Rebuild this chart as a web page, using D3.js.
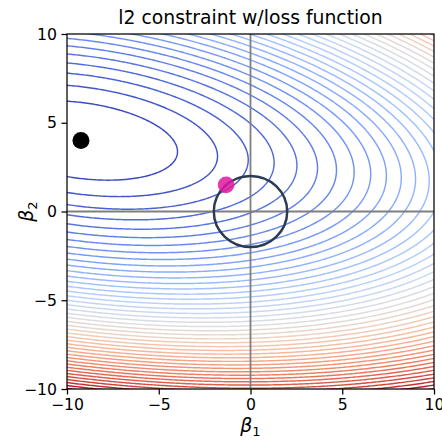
<!DOCTYPE html>
<html>
<head>
<meta charset="utf-8">
<script src="https://cdn.jsdelivr.net/npm/d3@7"></script>
<style>
body { margin: 0; background: #fff; }
svg { display: block; font-family: 'DejaVu Sans', sans-serif; }
</style>
</head>
<body>
<svg width="442" height="440"></svg>
<script>
// loss surface: quadratic bowl a*dx^2 + 2h*dx*dy + d*dy^2 around the OLS estimate
const betaHat = [-9.24, 4.0]
const lossCoef = [0.196, 0.13, 1.087]
const levels = [5, 10, 15, 20, 25, 30, 35, 40, 45, 50, 55, 60, 65, 70, 75, 80, 85, 90,
  95, 100, 105, 110, 115, 120, 125, 130, 135, 140, 145, 150, 155, 160, 165, 170, 175,
  180, 185, 190, 195, 200, 205, 210, 215]
const constrained = [-1.33, 1.5]
const l2Radius = 2
const xTicks = [-10, -5, 0, 5, 10]
const yTicks = [-10, -5, 0, 5, 10]

// matplotlib coolwarm anchors
const coolwarm = ['#3b4cc0', '#4d68d7', '#6282ea', '#779af7', '#8db0fe', '#a3c2ff',
  '#b8d0f9', '#ccd9ee', '#dddddd', '#ecd3c5', '#f5c4ac', '#f7b194', '#f49a7b',
  '#ec7f63', '#de604d', '#cb3e38', '#b40426']

const svg = d3.select('svg')
const width = +svg.attr('width')
const height = +svg.attr('height')
const margin = { top: 34, right: 8, bottom: 51, left: 67 }
const innerWidth = width - margin.left - margin.right
const innerHeight = height - margin.top - margin.bottom

const xScale = d3.scaleLinear().domain([-10, 10]).range([0, innerWidth])
const yScale = d3.scaleLinear().domain([-10, 10]).range([innerHeight, 0])
const colour = d3.scaleLinear()
  .domain(d3.range(coolwarm.length).map(i => levels[0] + i * (levels[levels.length - 1] - levels[0]) / (coolwarm.length - 1)))
  .range(coolwarm)
  .interpolate(d3.interpolateRgb)

const loss = (b1, b2) => {
  const dx = b1 - betaHat[0], dy = b2 - betaHat[1]
  return lossCoef[0] * dx * dx + 2 * lossCoef[1] * dx * dy + lossCoef[2] * dy * dy
}

// sample grid a bit wider than the plot so the grid border falls outside the clip
const g0 = -10.5, step = 0.1, n = 211
const values = new Array(n * n)
for (let j = 0; j < n; j++) {
  for (let i = 0; i < n; i++) values[j * n + i] = loss(g0 + i * step, g0 + j * step)
}
const contours = d3.contours().size([n, n]).thresholds(levels)(values)

const gridProj = d3.geoTransform({
  point: function(x, y) {
    this.stream.point(xScale(g0 + (x - 0.5) * step), yScale(g0 + (y - 0.5) * step))
  }
})
const path = d3.geoPath(gridProj)

const g = svg.append('g')
  .attr('transform', `translate(${margin.left}, ${margin.top})`)

g.append('clipPath').attr('id', 'plot-clip')
  .append('rect').attr('width', innerWidth).attr('height', innerHeight)

const plot = g.append('g').attr('clip-path', 'url(#plot-clip)')

plot.selectAll('.contour')
  .data(contours)
  .enter()
  .append('path')
  .attr('class', 'contour')
  .attr('d', path)
  .attr('fill', 'none')
  .attr('stroke', d => colour(d.value))
  .attr('stroke-width', 1.45)

// zero lines
plot.append('line')
  .attr('x1', xScale(0)).attr('x2', xScale(0))
  .attr('y1', 0).attr('y2', innerHeight)
  .attr('stroke', '#7f7f7f').attr('stroke-width', 1.8)
plot.append('line')
  .attr('x1', 0).attr('x2', innerWidth)
  .attr('y1', yScale(0)).attr('y2', yScale(0))
  .attr('stroke', '#7f7f7f').attr('stroke-width', 1.8)

// l2 constraint region
plot.append('ellipse')
  .attr('cx', xScale(0)).attr('cy', yScale(0))
  .attr('rx', xScale(l2Radius) - xScale(0))
  .attr('ry', yScale(0) - yScale(l2Radius))
  .attr('fill', 'none')
  .attr('stroke', '#2a3b52')
  .attr('stroke-width', 2.5)

plot.append('circle')
  .attr('cx', xScale(betaHat[0])).attr('cy', yScale(betaHat[1]))
  .attr('r', 8.5).attr('fill', '#000')

plot.append('circle')
  .attr('cx', xScale(constrained[0])).attr('cy', yScale(constrained[1]))
  .attr('r', 8.3).attr('fill', '#e0189f').attr('fill-opacity', 0.85)

// axes
const xAxis = d3.axisBottom(xScale).tickValues(xTicks).tickSize(5.5).tickPadding(4)
  .tickFormat(d => d3.format('d')(d).replace('-', '\u2212'))
const yAxis = d3.axisLeft(yScale).tickValues(yTicks).tickSize(5.5).tickPadding(4.5)
  .tickFormat(d => d3.format('d')(d).replace('-', '\u2212'))

const xAxisG = g.append('g')
  .attr('transform', `translate(0, ${innerHeight})`)
  .call(xAxis)
const yAxisG = g.append('g').call(yAxis)

;[xAxisG, yAxisG].forEach(ax => {
  ax.select('.domain').remove()
  ax.selectAll('.tick line').attr('stroke', '#000').attr('stroke-width', 1.25)
  ax.selectAll('.tick text')
    .attr('fill', '#000')
    .style('font-family', "'DejaVu Sans', sans-serif")
    .style('font-size', '15.7px')
})

g.append('rect')
  .attr('width', innerWidth).attr('height', innerHeight)
  .attr('fill', 'none').attr('stroke', '#000').attr('stroke-width', 1.25)

svg.append('text')
  .attr('x', margin.left + innerWidth / 2)
  .attr('y', 24)
  .attr('text-anchor', 'middle')
  .style('font-size', '18.8px')
  .text('l2 constraint w/loss function')

const xLabel = svg.append('text')
  .attr('x', margin.left + innerWidth / 2)
  .attr('y', 432)
  .attr('text-anchor', 'middle')
  .style('font-size', '18.8px')
xLabel.append('tspan').style('font-style', 'italic').text('β')
xLabel.append('tspan').attr('dy', 4).style('font-size', '13px').text('1')

const yLabel = svg.append('text')
  .attr('transform', `translate(33, ${margin.top + innerHeight / 2}) rotate(-90)`)
  .attr('text-anchor', 'middle')
  .style('font-size', '18.8px')
yLabel.append('tspan').style('font-style', 'italic').text('β')
yLabel.append('tspan').attr('dy', 4).style('font-size', '13px').text('2')
</script>
</body>
</html>
